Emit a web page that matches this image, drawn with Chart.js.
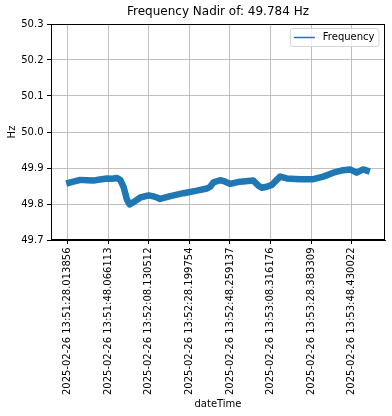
<!DOCTYPE html>
<html>
<head>
<meta charset="utf-8">
<script src="https://cdn.jsdelivr.net/npm/chart.js@4/dist/chart.umd.min.js"></script>
<style>
  html, body { margin: 0; padding: 0; background: #ffffff; }
  #wrap { width: 392px; height: 416px; }
</style>
</head>
<body>
<div id="wrap"><canvas id="c" width="392" height="416"></canvas></div>
<script>
// ---- data ----
const chartTitle = "Frequency Nadir of: 49.784 Hz";
const seriesLabel = "Frequency";
const xAxisTitle = "dateTime";
const yAxisTitle = "Hz";

const tickLabels = [
  "2025-02-26 13:51:28.013856",
  "2025-02-26 13:51:48.066113",
  "2025-02-26 13:52:08.130512",
  "2025-02-26 13:52:28.199754",
  "2025-02-26 13:52:48.259137",
  "2025-02-26 13:53:08.316176",
  "2025-02-26 13:53:28.383309",
  "2025-02-26 13:53:48.430022"
];

// seconds after the first tick label's time
const seconds = [
  -0.6, 3.0, 6.4, 9.5, 12.8, 16.0, 19.6, 22.0, 24.5, 26.1,
  27.8, 29.4, 30.7, 32.7, 36.0, 40.1, 42.5, 44.2, 45.8, 50.8,
  57.3, 63.9, 68.9, 70.5, 72.1, 75.4, 78.0, 80.3, 85.3, 91.8,
  94.3, 96.0, 98.5, 100.9, 103.0, 105.0, 108.3, 114.8, 121.4, 126.3,
  131.3, 136.2, 139.5, 142.8, 146.0, 149.3
];
const frequency = [
  49.857, 49.862, 49.867, 49.866, 49.865, 49.868, 49.871, 49.870, 49.872, 49.867,
  49.846, 49.812, 49.799, 49.805, 49.818, 49.824, 49.821, 49.818, 49.814, 49.822,
  49.830, 49.837, 49.843, 49.848, 49.860, 49.866, 49.862, 49.856, 49.862, 49.865,
  49.851, 49.845, 49.848, 49.853, 49.865, 49.876, 49.871, 49.869, 49.869, 49.876,
  49.887, 49.894, 49.896, 49.887, 49.896, 49.890
];

const yTicks = [49.7, 49.8, 49.9, 50.0, 50.1, 50.2, 50.3];

// ---- helpers ----
function toSec(label) {
  const [h, m, s] = label.split(" ")[1].split(":").map(Number);
  return h * 3600 + m * 60 + s;
}
const t0 = toSec(tickLabels[0]);
const tickPositions = tickLabels.map(l => toSec(l) - t0);

const dataMin = Math.min(...seconds), dataMax = Math.max(...seconds);
const margin = (dataMax - dataMin) * 0.05;

const FONT = "'DejaVu Sans', 'Liberation Sans', sans-serif";
const BLUE = "#1f77b4";

const framePlugin = {
  id: "frame",
  afterLayout(chart) {
    const ca = chart.chartArea;
    if (chart.titleBlock) {
      chart.titleBlock.left = ca.left;
      chart.titleBlock.right = ca.right;
    }
  },
  afterDatasetsDraw(chart) {
    const {ctx, chartArea: ca} = chart;
    ctx.save();
    ctx.strokeStyle = "#000000";
    ctx.lineWidth = 1;
    ctx.strokeRect(Math.round(ca.left) + 0.5, Math.round(ca.top) + 0.5,
                   Math.round(ca.right - ca.left) - 1, Math.round(ca.bottom - ca.top) - 1);
    ctx.restore();
  },
  afterDraw(chart) {
    // matplotlib-style legend inside the upper-right of the axes
    const {ctx, chartArea: ca} = chart;
    const ds = chart.data.datasets[0];
    ctx.save();
    ctx.font = "10px " + FONT;
    const tw = ctx.measureText(ds.label).width;
    const padX = 3.5, handle = 21, gap = 8;
    const w = padX + handle + gap + tw + padX + 1;
    const h = 18;
    const x = ca.right - 6 - w;
    const y = ca.top + 4.5;
    const r = 2.5;
    ctx.beginPath();
    ctx.moveTo(x + r, y);
    ctx.lineTo(x + w - r, y);
    ctx.arcTo(x + w, y, x + w, y + r, r);
    ctx.lineTo(x + w, y + h - r);
    ctx.arcTo(x + w, y + h, x + w - r, y + h, r);
    ctx.lineTo(x + r, y + h);
    ctx.arcTo(x, y + h, x, y + h - r, r);
    ctx.lineTo(x, y + r);
    ctx.arcTo(x, y, x + r, y, r);
    ctx.closePath();
    ctx.fillStyle = "rgba(255,255,255,0.8)";
    ctx.fill();
    ctx.strokeStyle = "rgba(204,204,204,0.8)";
    ctx.lineWidth = 1;
    ctx.stroke();
    const cy = y + h / 2;
    ctx.beginPath();
    ctx.moveTo(x + padX, cy);
    ctx.lineTo(x + padX + handle, cy);
    ctx.strokeStyle = ds.borderColor;
    ctx.lineWidth = 1.5;
    ctx.stroke();
    ctx.fillStyle = "#000000";
    ctx.textBaseline = "middle";
    ctx.textAlign = "left";
    ctx.fillText(ds.label, x + padX + handle + gap, cy);
    ctx.restore();
  }
};

new Chart(document.getElementById("c"), {
  type: "line",
  data: {
    datasets: [{
      label: seriesLabel,
      data: seconds.map((s, i) => ({x: s, y: frequency[i]})),
      borderColor: BLUE,
      backgroundColor: BLUE,
      borderWidth: 6.5,
      pointRadius: 0,
      tension: 0,
      borderJoinStyle: "round",
      borderCapStyle: "butt",
      fill: false
    }]
  },
  options: {
    responsive: false,
    animation: false,
    events: [],
    layout: { padding: { left: 0, right: 7, top: 0, bottom: 0 } },
    plugins: {
      legend: { display: false },
      tooltip: { enabled: false },
      title: {
        display: true,
        text: chartTitle,
        color: "#000000",
        font: { family: FONT, size: 12, weight: "normal", lineHeight: 1.2 },
        padding: { top: 5, bottom: 4.6 }
      }
    },
    scales: {
      x: {
        type: "linear",
        min: dataMin - margin,
        max: dataMax + margin,
        afterBuildTicks(scale) {
          scale.ticks = tickPositions.map(v => ({ value: v }));
        },
        afterFit(scale) { scale.height = 176; },
        ticks: {
          autoSkip: false,
          minRotation: 90,
          maxRotation: 90,
          padding: 3.5,
          color: "#000000",
          font: { family: FONT, size: 10 },
          callback: (v, i) => tickLabels[i]
        },
        grid: {
          color: "#b0b0b0",
          lineWidth: 0.8,
          drawTicks: true,
          tickLength: 4,
          tickColor: "#000000",
          tickWidth: 1
        },
        border: { display: true, color: "#000000", width: 1 },
        title: {
          display: true,
          text: xAxisTitle,
          color: "#000000",
          font: { family: FONT, size: 10 },
          padding: { top: 0, bottom: 6 }
        }
      },
      y: {
        type: "linear",
        min: yTicks[0],
        max: yTicks[yTicks.length - 1],
        afterBuildTicks(scale) {
          scale.ticks = yTicks.map(v => ({ value: v }));
        },
        afterFit(scale) { scale.width = 51; },
        ticks: {
          padding: 3.5,
          color: "#000000",
          font: { family: FONT, size: 10 },
          callback: (v) => Number(v).toFixed(1)
        },
        grid: {
          color: "#b0b0b0",
          lineWidth: 0.8,
          drawTicks: true,
          tickLength: 4,
          tickColor: "#000000",
          tickWidth: 1
        },
        border: { display: true, color: "#000000", width: 1 },
        title: {
          display: true,
          text: yAxisTitle,
          color: "#000000",
          font: { family: FONT, size: 10 },
          padding: { top: 6, bottom: 0 }
        }
      }
    }
  },
  plugins: [framePlugin]
});
</script>
</body>
</html>
